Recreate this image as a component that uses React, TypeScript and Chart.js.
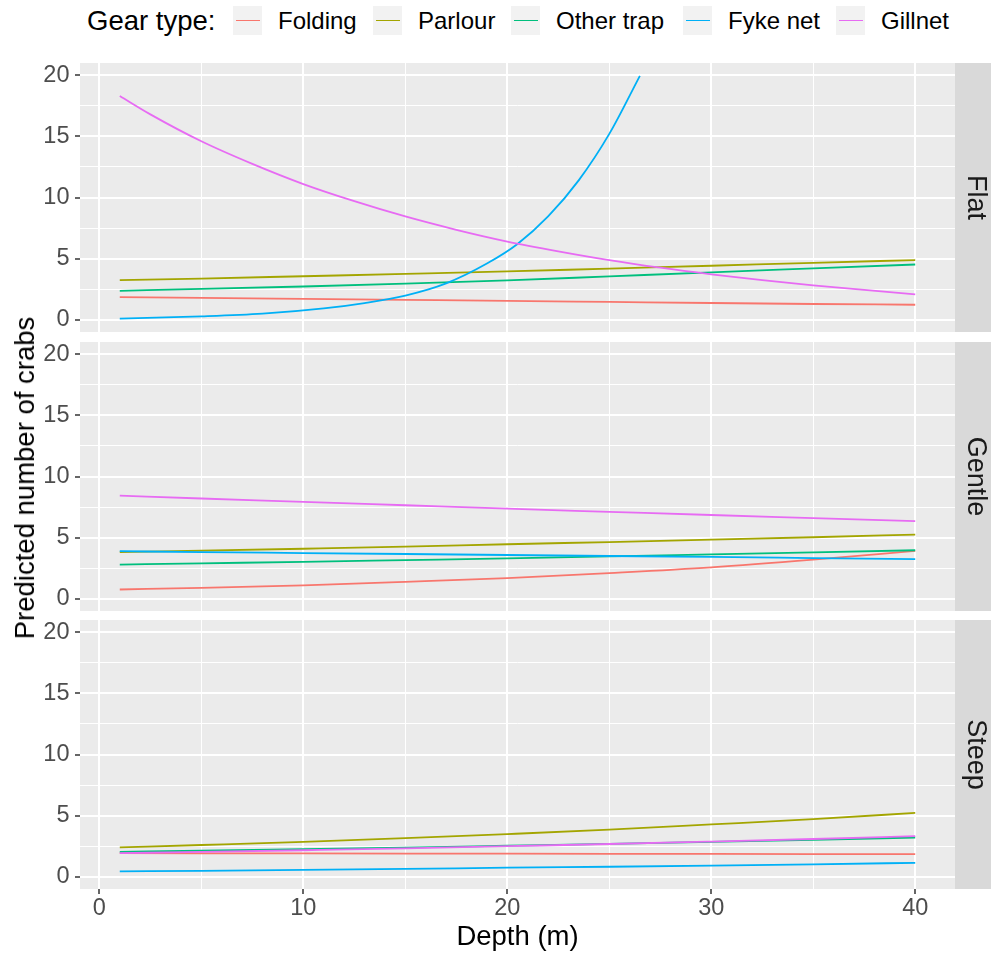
import React, { useEffect, useRef } from 'react';
import { Chart, registerables } from 'chart.js';

Chart.register(...registerables);

// ---------- data ----------
const gearTypes = ['Folding', 'Parlour', 'Other trap', 'Fyke net', 'Gillnet'];
const gearColors = ['#F8766D', '#A3A500', '#00BF7D', '#00B0F6', '#E76BF3'];
const slopeTypes = ['Flat', 'Gentle', 'Steep'];

const depths = [1, 5, 10, 15, 20, 25, 30, 35, 40];
const fineDepths = [1, 2.5, 5, 7.5, 10, 12.5, 15, 17.5, 20, 22.5, 25, 27.5, 30, 32.5, 35, 37.5, 40];
const fykeFlatDepths = [1, 5, 8, 11, 13, 15, 17, 19, 20.5, 22, 23.5, 25, 26.5];

// Flat
const flatFolding = [1.85, 1.79, 1.71, 1.63, 1.55, 1.46, 1.37, 1.29, 1.23];
const flatParlour = [3.24, 3.37, 3.56, 3.75, 3.95, 4.19, 4.42, 4.66, 4.88];
const flatOtherTrap = [2.37, 2.52, 2.72, 2.95, 3.22, 3.55, 3.88, 4.2, 4.52];
const flatFykeNet = [0.1, 0.28, 0.5, 0.93, 1.37, 1.98, 2.98, 4.6, 6.2, 8.45, 11.4, 15.2, 19.95];
const flatGillnet = [18.3, 16.8, 14.6, 12.75, 11.1, 9.7, 8.45, 7.36, 6.4, 5.6, 4.88, 4.26, 3.72, 3.24, 2.82, 2.44, 2.08];

// Gentle
const gentleFolding = [0.76, 0.89, 1.1, 1.38, 1.69, 2.1, 2.57, 3.2, 3.92];
const gentleParlour = [3.81, 3.93, 4.09, 4.26, 4.46, 4.64, 4.83, 5.03, 5.25];
const gentleOtherTrap = [2.8, 2.9, 3.02, 3.16, 3.3, 3.46, 3.63, 3.8, 3.97];
const gentleFykeNet = [3.89, 3.82, 3.74, 3.66, 3.58, 3.5, 3.42, 3.33, 3.24];
const gentleGillnet = [8.43, 8.2, 7.93, 7.65, 7.37, 7.11, 6.85, 6.6, 6.35];

// Steep
const steepFolding = [1.93, 1.92, 1.91, 1.9, 1.89, 1.88, 1.87, 1.86, 1.85];
const steepParlour = [2.4, 2.6, 2.86, 3.16, 3.49, 3.85, 4.28, 4.72, 5.22];
const steepOtherTrap = [2.04, 2.13, 2.26, 2.39, 2.54, 2.69, 2.85, 3.02, 3.21];
const steepFykeNet = [0.44, 0.49, 0.56, 0.64, 0.74, 0.82, 0.91, 1.02, 1.14];
const steepGillnet = [1.93, 2.03, 2.17, 2.32, 2.5, 2.68, 2.88, 3.09, 3.32];

const xTickValues = [0, 5, 10, 15, 20, 25, 30, 35, 40];
const yTickValues = [0, 2.5, 5, 7.5, 10, 12.5, 15, 17.5, 20];
const xMajorLabels = ['0', '10', '20', '30', '40'];
const yMajorLabels = ['0', '5', '10', '15', '20'];
const xLimits = [-0.95, 41.95];
const yLimits = [-1, 21];

const facetSeries: [number[], number[]][][] = [
  [[depths, flatFolding], [depths, flatParlour], [depths, flatOtherTrap], [fykeFlatDepths, flatFykeNet], [fineDepths, flatGillnet]],
  [[depths, gentleFolding], [depths, gentleParlour], [depths, gentleOtherTrap], [depths, gentleFykeNet], [depths, gentleGillnet]],
  [[depths, steepFolding], [depths, steepParlour], [depths, steepOtherTrap], [depths, steepFykeNet], [depths, steepGillnet]],
];

// ---------- layout ----------
const FONT = '"Liberation Sans", Arial, Helvetica, sans-serif';
const W = 991;
const H = 954;
const PANEL_LEFT = 80;
const STRIP_W = 36;
const PANEL_TOPS = [63, 342, 620];
const PANEL_H = 269;
const PAD = 14;

const panelPlugin = {
  id: 'panelDeco',
  beforeDraw(chart: any, _args: any, opts: any) {
    const { ctx, chartArea: a } = chart;
    ctx.save();
    ctx.fillStyle = '#EBEBEB';
    ctx.fillRect(a.left, a.top, a.right - a.left, a.bottom - a.top);
    ctx.fillStyle = '#D9D9D9';
    ctx.fillRect(a.right, a.top, chart.width - a.right, a.bottom - a.top);
    ctx.translate(a.right + 20, (a.top + a.bottom) / 2);
    ctx.rotate(Math.PI / 2);
    ctx.fillStyle = '#1A1A1A';
    ctx.font = `27px ${FONT}`;
    ctx.textAlign = 'center';
    ctx.textBaseline = 'middle';
    ctx.fillText(opts.label, 0, 0);
    ctx.restore();
  },
};

function Facet({ index }: { index: number }) {
  const ref = useRef<HTMLCanvasElement | null>(null);
  const isBottom = index === 2;
  const canvasTop = PANEL_TOPS[index] - PAD;
  const canvasH = isBottom ? H - canvasTop : PANEL_H + 2 * PAD;

  useEffect(() => {
    if (!ref.current) return;
    const series = facetSeries[index];
    const datasets = series.map(([xs, ys], g) => ({
      label: gearTypes[g],
      data: xs.map((x, k) => ({ x, y: ys[k] })),
      borderColor: gearColors[g],
      backgroundColor: gearColors[g],
      borderWidth: 1.8,
      pointRadius: 0,
      cubicInterpolationMode: 'monotone' as const,
      fill: false,
      order: gearTypes.length - 1 - g,
    }));

    const chart = new Chart(ref.current, {
      type: 'line',
      data: { datasets },
      plugins: [panelPlugin],
      options: {
        animation: false,
        responsive: false,
        maintainAspectRatio: false,
        devicePixelRatio: 1,
        layout: { padding: { left: 0, right: STRIP_W, top: PAD, bottom: isBottom ? 0 : PAD } },
        plugins: {
          legend: { display: false },
          tooltip: { enabled: false },
          title: { display: false },
          panelDeco: { label: slopeTypes[index] },
        } as any,
        scales: {
          x: {
            type: 'linear',
            min: xLimits[0],
            max: xLimits[1],
            afterBuildTicks: (s: any) => { s.ticks = xTickValues.map((v) => ({ value: v })); },
            afterFit: (s: any) => {
              s.height = isBottom ? H - (PANEL_TOPS[2] + PANEL_H) : 0;
              s.paddingLeft = 0;
              s.paddingRight = 0;
            },
            border: { display: false },
            grid: {
              color: '#FFFFFF',
              lineWidth: (c: any) => (c.tick && c.tick.value % 10 === 0 ? 2 : 1),
              drawTicks: isBottom,
              tickLength: 5,
              tickWidth: 1.5,
              tickColor: (c: any) => (c.tick && c.tick.value % 10 === 0 ? '#333333' : 'rgba(0,0,0,0)'),
            },
            ticks: {
              display: isBottom,
              autoSkip: false,
              maxRotation: 0,
              padding: 0,
              color: '#4D4D4D',
              font: { family: FONT, size: 23.5 },
              callback: (v: any) => {
                const i = xTickValues.indexOf(Number(v));
                return i % 2 === 0 ? xMajorLabels[i / 2] : '';
              },
            },
            title: {
              display: isBottom,
              text: 'Depth (m)',
              color: '#000000',
              font: { family: FONT, size: 27.5 },
              padding: { top: 0, bottom: 0.5 },
            },
          },
          y: {
            type: 'linear',
            position: 'left',
            min: yLimits[0],
            max: yLimits[1],
            afterBuildTicks: (s: any) => { s.ticks = yTickValues.map((v) => ({ value: v })); },
            afterFit: (s: any) => {
              s.width = PANEL_LEFT;
              s.paddingTop = 0;
              s.paddingBottom = 0;
            },
            border: { display: false },
            grid: {
              color: '#FFFFFF',
              lineWidth: (c: any) => (c.tick && c.tick.value % 5 === 0 ? 2 : 1),
              drawTicks: true,
              tickLength: 5,
              tickWidth: 1.5,
              tickColor: (c: any) => (c.tick && c.tick.value % 5 === 0 ? '#333333' : 'rgba(0,0,0,0)'),
            },
            ticks: {
              autoSkip: false,
              padding: 5.5,
              color: '#4D4D4D',
              font: { family: FONT, size: 23.5 },
              callback: (v: any) => {
                const i = yTickValues.indexOf(Number(v));
                return i % 2 === 0 ? yMajorLabels[i / 2] : '';
              },
            },
            title: { display: false },
          },
        },
      } as any,
    });
    return () => chart.destroy();
  }, [index]);

  return (
    <canvas
      ref={ref}
      width={W}
      height={canvasH}
      style={{ position: 'absolute', left: 0, top: canvasTop, width: W, height: canvasH, display: 'block' }}
    />
  );
}

const legendKeyLefts = [233, 373, 511, 683, 836];

function Legend() {
  return (
    <>
      <div
        style={{
          position: 'absolute', left: 87, top: 5, height: 31, lineHeight: '31px',
          fontFamily: FONT, fontSize: 27.5, color: '#000', whiteSpace: 'nowrap',
        }}
      >
        Gear type:
      </div>
      {gearTypes.map((g, i) => (
        <React.Fragment key={g}>
          <div
            style={{
              position: 'absolute', left: legendKeyLefts[i], top: 6, width: 29, height: 29,
              background: '#F2F2F2',
            }}
          >
            <div
              style={{
                position: 'absolute', left: 2.5, right: 2.5, top: 13.6, height: 1.8,
                background: gearColors[i],
              }}
            />
          </div>
          <div
            style={{
              position: 'absolute', left: legendKeyLefts[i] + 45, top: 5, height: 31, lineHeight: '31px',
              fontFamily: FONT, fontSize: 24, color: '#000', whiteSpace: 'nowrap',
            }}
          >
            {g}
          </div>
        </React.Fragment>
      ))}
    </>
  );
}

export default function App() {
  return (
    <div
      style={{
        position: 'absolute', left: 0, top: 0, width: W, height: H,
        background: '#FFFFFF', overflow: 'hidden',
      }}
    >
      <Legend />
      {slopeTypes.map((s, i) => (
        <Facet key={s} index={i} />
      ))}
      <div
        style={{
          position: 'absolute', left: 25, top: 478, transform: 'translate(-50%, -50%) rotate(-90deg)',
          fontFamily: FONT, fontSize: 27.5, lineHeight: '32px', color: '#000', whiteSpace: 'nowrap',
        }}
      >
        Predicted number of crabs
      </div>
    </div>
  );
}
